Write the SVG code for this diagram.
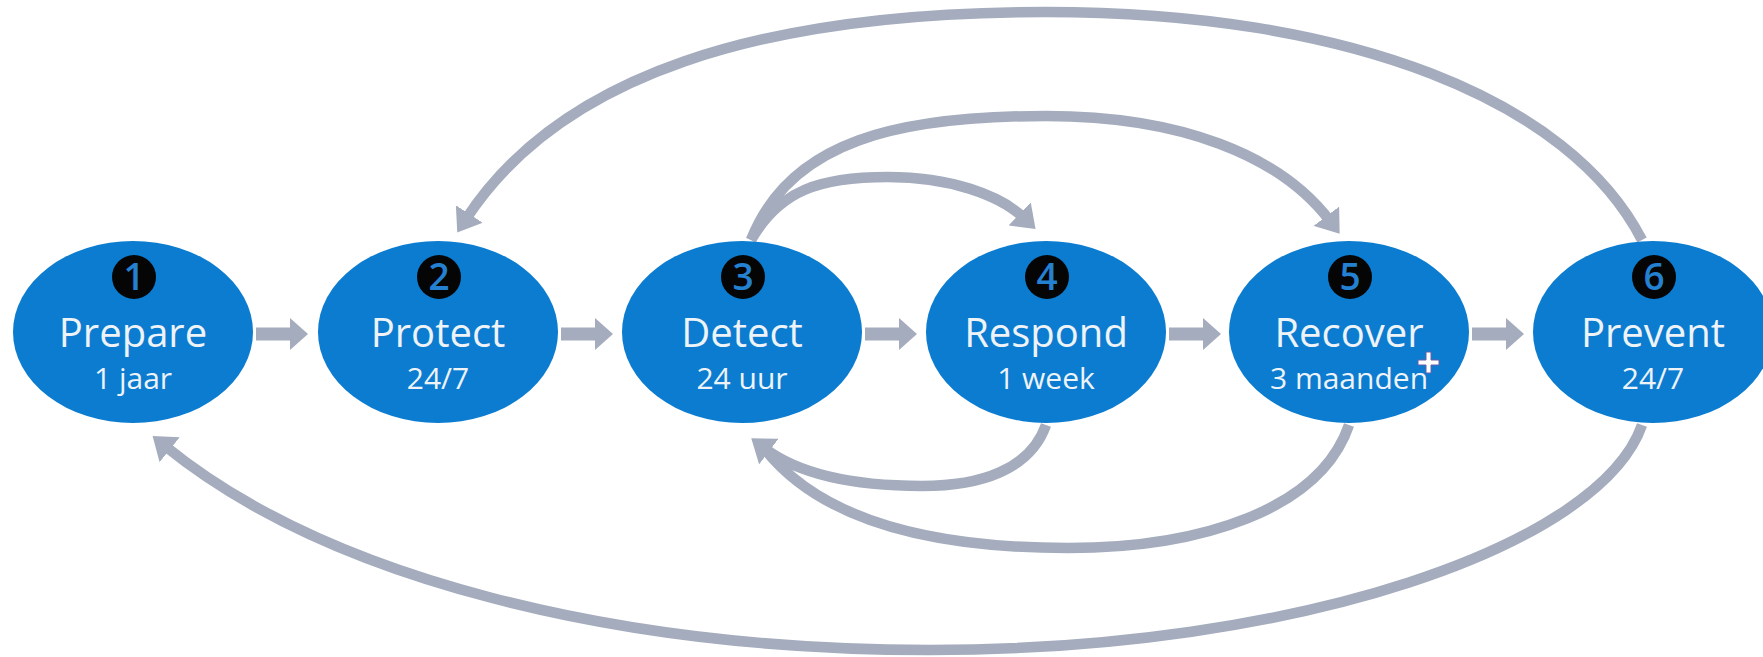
<svg xmlns="http://www.w3.org/2000/svg" width="1763" height="657" viewBox="0 0 1763 657">
  <defs>
    <style>
      .node { fill: #0b7cd0; }
      .title { font-family: "Open Sans", "Liberation Sans", sans-serif; font-size: 40px; fill: #eef3f8; text-anchor: middle; }
      .sub { font-family: "Open Sans", "Liberation Sans", sans-serif; font-size: 30px; fill: #eef3f8; text-anchor: middle; }
      .badge { fill: #050505; }
      .num { font-family: "Open Sans", "Liberation Sans", sans-serif; font-size: 37px; font-weight: 600; fill: #2480d0; text-anchor: middle; }
      .arc { fill: none; stroke: #a4acbd; stroke-width: 10.5; }
      .step { fill: #a4acbd; }
    </style>
    <marker id="head" markerUnits="userSpaceOnUse" markerWidth="22" markerHeight="32" viewBox="0 0 22 32" refX="6" refY="16" orient="auto">
      <path d="M0,0 L22,16 L0,32 z" fill="#a4acbd"/>
    </marker>
    <path id="stepArrow" d="M0,-6.5 H34 V-16 L52,0 L34,16 V6.5 H0 z"/>
  </defs>

  <rect width="1763" height="657" fill="#ffffff"/>

  <!-- connectors: straight steps and feedback loops -->
  <g id="connectors">
    <use href="#stepArrow" class="step" x="256" y="334"/>
    <use href="#stepArrow" class="step" x="561" y="334"/>
    <use href="#stepArrow" class="step" x="865" y="334"/>
    <use href="#stepArrow" class="step" x="1169" y="334"/>
    <use href="#stepArrow" class="step" x="1472" y="334"/>

    <!-- Prevent back to Protect -->
    <path class="arc" marker-end="url(#head)" d="M1642,240 C1570,100 1350,12 1046,12 C760,12 560,75 466,219"/>
    <!-- Detect ahead to Recover -->
    <path class="arc" marker-end="url(#head)" d="M751,240 C790,140 900,116 1046,116 C1180,116 1280,155 1330,221"/>
    <!-- Detect ahead to Respond -->
    <path class="arc" marker-end="url(#head)" d="M751,240 C780,190 820,177 888,177 C950,177 1000,195 1024,218"/>
    <!-- Respond back to Detect -->
    <path class="arc" marker-end="url(#head)" d="M1046,425 C1030,470 980,486 922,486 C850,486 797,473 764,448"/>
    <!-- Recover back to Detect -->
    <path class="arc" d="M1349,425 C1320,510 1200,548 1068,548 C930,548 820,520 764,448"/>
    <!-- Prevent back to Prepare -->
    <path class="arc" marker-end="url(#head)" d="M1642,425 C1600,545 1300,650 930,650 C620,650 330,580 165,446"/>
  </g>

  <g id="node-prepare">
    <ellipse class="node" cx="133" cy="332" rx="120" ry="91"/>
    <circle class="badge" cx="134" cy="277" r="22"/>
    <text class="num" x="134" y="290">1</text>
    <text class="title" x="133" y="347">Prepare</text>
    <text class="sub" x="133" y="389">1 jaar</text>
  </g>
  <g id="node-protect">
    <ellipse class="node" cx="438" cy="332" rx="120" ry="91"/>
    <circle class="badge" cx="439" cy="277" r="22"/>
    <text class="num" x="439" y="290">2</text>
    <text class="title" x="438" y="347">Protect</text>
    <text class="sub" x="438" y="389">24/7</text>
  </g>
  <g id="node-detect">
    <ellipse class="node" cx="742" cy="332" rx="120" ry="91"/>
    <circle class="badge" cx="743" cy="277" r="22"/>
    <text class="num" x="743" y="290">3</text>
    <text class="title" x="742" y="347">Detect</text>
    <text class="sub" x="742" y="389">24 uur</text>
  </g>
  <g id="node-respond">
    <ellipse class="node" cx="1046" cy="332" rx="120" ry="91"/>
    <circle class="badge" cx="1047" cy="277" r="22"/>
    <text class="num" x="1047" y="290">4</text>
    <text class="title" x="1046" y="347">Respond</text>
    <text class="sub" x="1046" y="389">1 week</text>
  </g>
  <g id="node-recover">
    <ellipse class="node" cx="1349" cy="332" rx="120" ry="91"/>
    <circle class="badge" cx="1350" cy="277" r="22"/>
    <text class="num" x="1350" y="290">5</text>
    <text class="title" x="1349" y="347">Recover</text>
    <text class="sub" x="1349" y="389">3 maanden</text>
  </g>
  <g id="node-prevent">
    <ellipse class="node" cx="1653" cy="332" rx="120" ry="91"/>
    <circle class="badge" cx="1654" cy="277" r="22"/>
    <text class="num" x="1654" y="290">6</text>
    <text class="title" x="1653" y="347">Prevent</text>
    <text class="sub" x="1653" y="389">24/7</text>
  </g>

  <!-- pointer cross -->
  <path d="M1426,352 h5 v8 h8 v5 h-8 v8 h-5 v-8 h-8 v-5 h8 z" fill="#ffffff" stroke="#6b5fa8" stroke-width="1"/>
</svg>
